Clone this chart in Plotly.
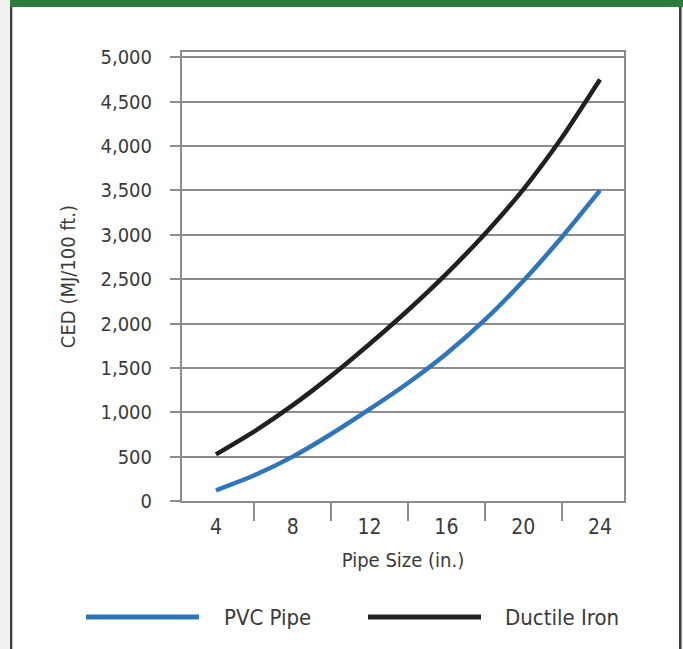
import plotly.graph_objects as go

# ---- data ----
pipe_sizes = [4, 6, 8, 10, 12, 14, 16, 18, 20, 22, 24]
pvc_ced = [120, 290, 500, 755, 1035, 1330, 1660, 2040, 2480, 2970, 3500]
ductile_ced = [525, 785, 1080, 1410, 1770, 2150, 2560, 3010, 3510, 4090, 4750]
x_tick_vals = [4, 8, 12, 16, 20, 24]
x_tick_text = ["4", "8", "12", "16", "20", "24"]
x_minor_ticks = [6, 10, 14, 18, 22]
y_tick_vals = [0, 500, 1000, 1500, 2000, 2500, 3000, 3500, 4000, 4500, 5000]
series_names = ["PVC Pipe", "Ductile Iron"]
series_colors = ["#2e75bb", "#231f20"]

W, H = 683, 649
L, R, T, B = 182, 59, 52, 148
PW, PH = W - L - R, H - T - B

def px(x):
    return (x - L) / PW

def py(y):
    return (H - B - y) / PH

FONT = "DejaVu Sans Condensed, Liberation Sans Narrow, Arial Narrow, sans-serif"
GRID = "#8c8c8c"
TXT = "#3a3a3a"

fig = go.Figure()
for name, vals, col in zip(series_names, [pvc_ced, ductile_ced], series_colors):
    fig.add_trace(go.Scatter(x=pipe_sizes, y=vals, mode="lines", name=name,
                             line=dict(color=col, width=4.5, shape="spline", smoothing=0.6),
                             showlegend=False, hoverinfo="skip"))

shapes = []
shapes.append(dict(type="rect", xref="paper", yref="paper", x0=px(0), x1=px(10), y0=py(H), y1=py(0),
                   fillcolor="#f1f1f1", line=dict(width=0), layer="below"))
shapes.append(dict(type="rect", xref="paper", yref="paper", x0=px(681), x1=px(W), y0=py(H), y1=py(0),
                   fillcolor="#f1f1f1", line=dict(width=0), layer="below"))
shapes.append(dict(type="rect", xref="paper", yref="paper", x0=px(10), x1=px(W), y0=py(7), y1=py(0),
                   fillcolor="#2f7b3b", line=dict(width=0)))
shapes.append(dict(type="rect", xref="paper", yref="paper", x0=px(10), x1=px(12.3), y0=py(H), y1=py(7),
                   fillcolor="#3d3d3d", line=dict(width=0)))
shapes.append(dict(type="rect", xref="paper", yref="paper", x0=px(679), x1=px(681.5), y0=py(H), y1=py(7),
                   fillcolor="#3d3d3d", line=dict(width=0)))

annotations = []
leg_y = 617
leg_items = [(86, 199, 222), (368, 481, 503)]
for (x0, x1, tx), name, col in zip(leg_items, series_names, series_colors):
    shapes.append(dict(type="line", xref="paper", yref="paper", x0=px(x0), x1=px(x1),
                       y0=py(leg_y), y1=py(leg_y), line=dict(color=col, width=5)))
    annotations.append(dict(xref="paper", yref="paper", x=px(tx), y=py(leg_y), text=name,
                            showarrow=False, xanchor="left", yanchor="middle",
                            font=dict(family=FONT, size=22, color=TXT)))

fig.update_layout(
    width=W, height=H,
    margin=dict(l=L, r=R, t=T, b=B, pad=0),
    paper_bgcolor="white", plot_bgcolor="white",
    shapes=shapes, annotations=annotations,
    showlegend=False,
    font=dict(family=FONT, color=TXT),
)
fig.update_xaxes(
    range=[2.23, 25.25], tickvals=x_tick_vals, ticktext=x_tick_text, ticks="",
    showgrid=False, zeroline=False, showline=True, linecolor=GRID, linewidth=2, mirror=True,
    tickfont=dict(family=FONT, size=21, color=TXT), ticklabelstandoff=6,
    minor=dict(tickvals=x_minor_ticks, ticks="outside", ticklen=18, tickwidth=2, tickcolor=GRID, showgrid=False),
    title=dict(text="Pipe Size (in.)", font=dict(family=FONT, size=20, color=TXT), standoff=15),
)
fig.update_yaxes(
    range=[0, 5060], tickvals=y_tick_vals, tickformat=",", ticks="outside", ticklen=10, tickwidth=2,
    tickcolor=GRID, showgrid=True, gridcolor=GRID, gridwidth=2, zeroline=False,
    showline=True, linecolor=GRID, linewidth=2, mirror=True,
    tickfont=dict(family=FONT, size=20, color=TXT), ticklabelstandoff=14,
    title=dict(text="CED (MJ/100 ft.)", font=dict(family=FONT, size=20, color=TXT), standoff=20),
)

fig.write_html("out.html", config={"displayModeBar": False},
               post_script="document.body.style.margin='0px';document.body.style.padding='0px';")
